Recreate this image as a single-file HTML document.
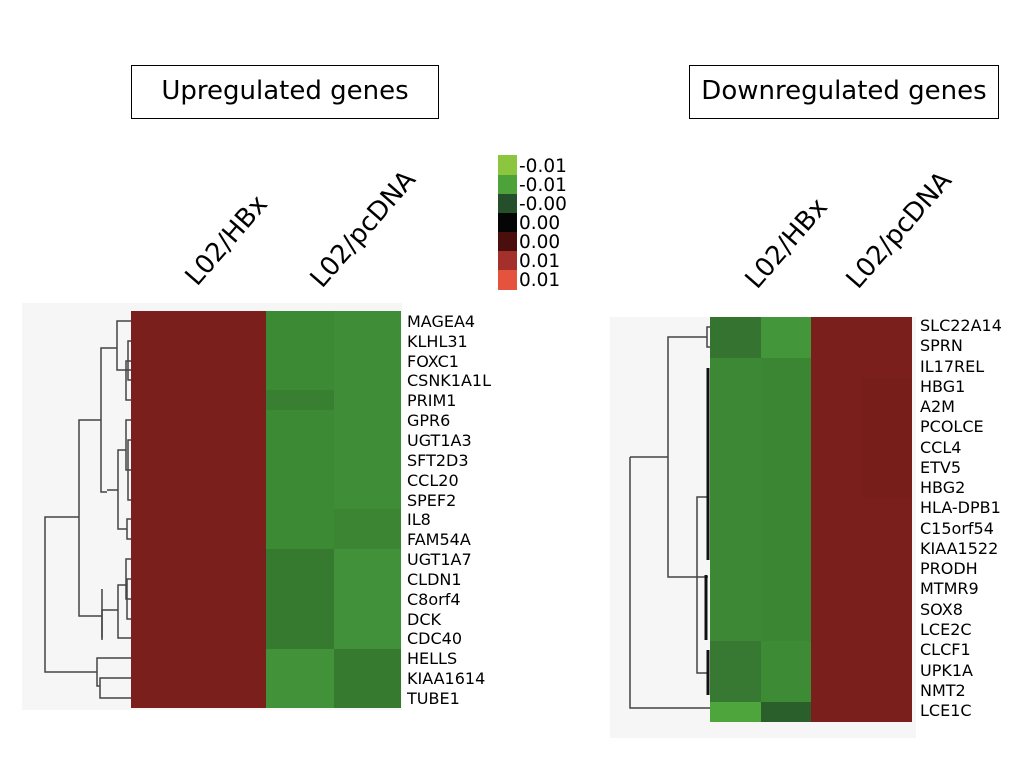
<!DOCTYPE html>
<html><head><meta charset="utf-8"><style>
html,body{margin:0;padding:0;background:#fff;}
svg text{font-family:"DejaVu Sans","Liberation Sans",sans-serif;}
</style></head><body>
<svg width="1032" height="777" viewBox="0 0 1032 777" xmlns="http://www.w3.org/2000/svg">
<rect width="1032" height="777" fill="#fff"/>
<rect x="131.5" y="65.5" width="307" height="53" fill="#fff" stroke="#000" stroke-width="1"/>
<text x="285" y="99" font-size="26" text-anchor="middle">Upregulated genes</text>
<rect x="689.5" y="65.5" width="309" height="53" fill="#fff" stroke="#000" stroke-width="1"/>
<text x="844" y="99" font-size="26" text-anchor="middle">Downregulated genes</text>

<g font-size="26">
<text transform="translate(197,287) rotate(-49)">L02/HBx</text>
<text transform="translate(322,289) rotate(-49)">L02/pcDNA</text>
<text transform="translate(757,290) rotate(-49)">L02/HBx</text>
<text transform="translate(858,290) rotate(-49)">L02/pcDNA</text>
</g>

<rect x="498" y="155" width="19" height="20" fill="#8cc63f"/>
<rect x="498" y="175" width="19" height="19" fill="#4da33a"/>
<rect x="498" y="194" width="19" height="19" fill="#244f2a"/>
<rect x="498" y="213" width="19" height="19" fill="#050505"/>
<rect x="498" y="232" width="19" height="19" fill="#4a0f0c"/>
<rect x="498" y="251" width="19" height="19" fill="#a3302a"/>
<rect x="498" y="270" width="19" height="20" fill="#e5533e"/>
<g font-size="18.5">
<text x="519" y="172">-0.01</text>
<text x="519" y="191">-0.01</text>
<text x="519" y="210">-0.00</text>
<text x="519" y="229">0.00</text>
<text x="519" y="248">0.00</text>
<text x="519" y="267">0.01</text>
<text x="519" y="286">0.01</text>
</g>

<rect x="22" y="303" width="380" height="407" fill="#f6f6f6"/>
<rect x="131" y="311" width="135" height="397" fill="#7a1f1b"/>
<rect x="266" y="311" width="68" height="397" fill="#3d8a34"/>
<rect x="334" y="311" width="67" height="397" fill="#3f8d36"/>
<rect x="266" y="390" width="68" height="20" fill="#397f31"/>
<rect x="266" y="549" width="68" height="100" fill="#367a30"/>
<rect x="334" y="549" width="67" height="100" fill="#41903a"/>
<rect x="266" y="649" width="68" height="59" fill="#42923a"/>
<rect x="334" y="649" width="67" height="59" fill="#367a30"/>
<rect x="334" y="509" width="67" height="40" fill="#3b8533"/>
<g font-size="16" fill="#000">
<text x="407" y="327">MAGEA4</text>
<text x="407" y="347">KLHL31</text>
<text x="407" y="367">FOXC1</text>
<text x="407" y="386">CSNK1A1L</text>
<text x="407" y="406">PRIM1</text>
<text x="407" y="426">GPR6</text>
<text x="407" y="446">UGT1A3</text>
<text x="407" y="466">SFT2D3</text>
<text x="407" y="486">CCL20</text>
<text x="407" y="506">SPEF2</text>
<text x="407" y="525">IL8</text>
<text x="407" y="545">FAM54A</text>
<text x="407" y="565">UGT1A7</text>
<text x="407" y="585">CLDN1</text>
<text x="407" y="605">C8orf4</text>
<text x="407" y="625">DCK</text>
<text x="407" y="644">CDC40</text>
<text x="407" y="664">HELLS</text>
<text x="407" y="684">KIAA1614</text>
<text x="407" y="704">TUBE1</text>
</g>
<g stroke="#444" stroke-width="1.5" fill="none">
<path d="M131 321 H117 V370 H131 M131 341 H128 V380 H131 M131 361 H126 V400 H131"/>
<path d="M117 348 H101 V492 H107"/>
<path d="M131 420 H126 V470 H131 M131 440 H128 V500 H131 M131 519 H127 V539 H131 M126 450 H118 V529 H127 M118 490 H107"/>
<path d="M101 420 H79 V616 H102"/>
<path d="M131 559 H126 V599 H131 M131 579 H127 V619 H131 M126 585 H118 V638 H131 M118 610 H102 V638"/>
<path d="M102 589 V640"/>
<path d="M79 517 H45 V672 H97"/>
<path d="M131 658 H97 V686 H100 M131 678 H100 V698 H131"/>
</g>

<rect x="610" y="317" width="306" height="421" fill="#f6f6f6"/>
<rect x="710" y="317" width="51" height="405" fill="#3c8834"/>
<rect x="761" y="317" width="50" height="405" fill="#3b8633"/>
<rect x="811" y="317" width="101" height="405" fill="#7a1f1b"/>
<rect x="862" y="378" width="50" height="120" fill="#771d1a"/>
<rect x="710" y="317" width="51" height="41" fill="#357430"/>
<rect x="761" y="317" width="50" height="41" fill="#44963b"/>
<rect x="710" y="641" width="51" height="61" fill="#377932"/>
<rect x="761" y="641" width="50" height="61" fill="#3e8b36"/>
<rect x="710" y="702" width="51" height="20" fill="#4ea53c"/>
<rect x="761" y="702" width="50" height="20" fill="#2a5e2a"/>
<g font-size="16" fill="#000">
<text x="920" y="331">SLC22A14</text>
<text x="920" y="351">SPRN</text>
<text x="920" y="372">IL17REL</text>
<text x="920" y="392">HBG1</text>
<text x="920" y="412">A2M</text>
<text x="920" y="432">PCOLCE</text>
<text x="920" y="453">CCL4</text>
<text x="920" y="473">ETV5</text>
<text x="920" y="493">HBG2</text>
<text x="920" y="513">HLA-DPB1</text>
<text x="920" y="534">C15orf54</text>
<text x="920" y="554">KIAA1522</text>
<text x="920" y="574">PRODH</text>
<text x="920" y="594">MTMR9</text>
<text x="920" y="615">SOX8</text>
<text x="920" y="635">LCE2C</text>
<text x="920" y="655">CLCF1</text>
<text x="920" y="676">UPK1A</text>
<text x="920" y="696">NMT2</text>
<text x="920" y="716">LCE1C</text>
</g>
<g stroke="#444" stroke-width="1.5" fill="none">
<path d="M710 327 H707 V347 H710 M707 337 H668 V577 H708"/>
<path d="M630 457 H668"/>
<path d="M630 457 V708 H710"/>
<path d="M708 497 H697 V673 H707"/>
</g>
<g stroke="#111" stroke-width="3" fill="none">
<path d="M708 368 V560 M706 575 V640 M708 650 V695"/>
</g>
</svg>
</body></html>
